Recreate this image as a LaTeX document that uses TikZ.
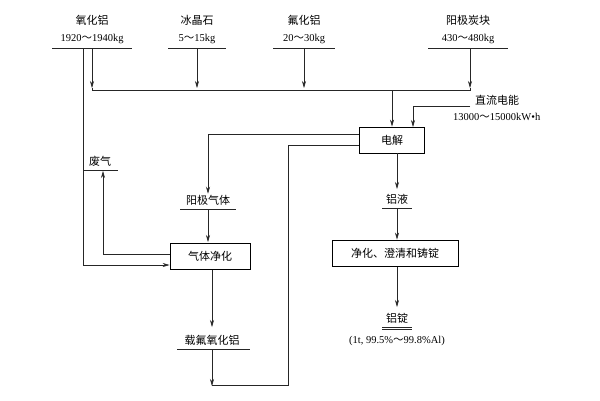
\documentclass[tikz,border=0pt]{standalone}
\usepackage{fontspec}
\setmainfont{Liberation Serif}
\newfontfamily\cjk{Noto Sans CJK SC}
\newcommand\tld{{\cjk ～}}
\usetikzlibrary{arrows.meta}
\begin{document}
\begin{tikzpicture}[x=1pt,y=-1pt,
  lbl/.style={font=\cjk\fontsize{11}{12}\selectfont,inner sep=1pt},
  num/.style={font=\fontsize{10.5}{12}\selectfont,inner sep=1pt},
  bx/.style={draw,thick,font=\cjk\fontsize{11}{12}\selectfont,minimum height=26pt,inner sep=2pt},
  ar/.style={-{Stealth[length=7pt,width=4pt]}},
  ln/.style={line width=0.6pt,draw=black!85}]
\useasboundingbox[fill=white] (0,0) rectangle (600,400);
\node[lbl] (t1) at (92,20) {氧化铝};
\node[num] (n1) at (92,39) {1920\tld1940kg};
\node[lbl] (t2) at (197,20) {冰晶石};
\node[num] (n2) at (197,39) {5\tld15kg};
\node[lbl] (t3) at (304,20) {氟化铝};
\node[num] (n3) at (304,39) {20\tld30kg};
\node[lbl] (t4) at (468,20) {阳极炭块};
\node[num] (n4) at (468,39) {430\tld480kg};
\foreach \x/\a in {52/132,168/226,273/335,428/508}{\draw[ln] (\x,48) -- (\a,48);}
\coordinate (h1) at (92,88); \coordinate (h4) at (470,88);
\draw[ln,ar] (92,49) -- (h1);
\draw[ln,ar] (197,49) -- (197,88);
\draw[ln,ar] (304,49) -- (304,88);
\draw[ln,ar] (470,49) -- (h4);
\draw[ln] (h1) -- (92,90) -- (470,90) -- (h4);
\node[bx,minimum width=65pt] (el) at (392,140) {电解};
\draw[ln,ar] (392,90) -- (el.north);
\node[lbl,anchor=west] (dc) at (474,100) {直流电能};
\node[num,anchor=west] (dcn) at (452,117) {13000\tld15000kW•h};
\draw[ln,ar] (470,106) -- (413,106) -- (413,127);
\node[lbl] (ag) at (208,200) {阳极气体};
\draw[ln] (180,209) -- (236,209);
\draw[ln,ar] (el.west|-0,134) -- (208,134) -- (ag.north);
\node[bx,minimum width=80pt] (gc) at (210,256) {气体净化};
\draw[ln,ar] (ag.south|-0,210) -- (208,242);
\node[lbl] (wg) at (100,161) {废气};
\draw[ln] (84,170) -- (118,170);
\draw[ln,ar] (gc.west|-0,254) -- (103,254) -- (103,171);
\draw[ln,ar] (83,49) -- (83,265) -- (gc.west|-0,265);
\node[lbl] (zf) at (212,340) {载氟氧化铝};
\draw[ln] (177,349) -- (250,349);
\draw[ln,ar] (212,270) -- (212,327);
\draw[ln,ar] (212,350) -- (212,386);
\draw[ln] (212,385) -- (288,385) -- (288,145) -- (el.west|-0,145);
\node[lbl] (ly) at (397,199) {铝液};
\draw[ln] (382,208) -- (412,208);
\draw[ln,ar] (397,153) -- (397,189);
\node[bx,minimum width=126pt] (pc) at (395,253) {净化、澄清和铸锭};
\draw[ln,ar] (397,209) -- (pc.north-|397,0);
\node[lbl] (ld) at (397,318) {铝锭};
\draw[ln] (382,327) -- (412,327); \draw[ln] (382,329) -- (412,329);
\draw[ln,ar] (397,267) -- (397,307);
\node[num] (pct) at (397,341) {(1t, 99.5\%\tld99.8\%Al)};
\end{tikzpicture}
\end{document}
